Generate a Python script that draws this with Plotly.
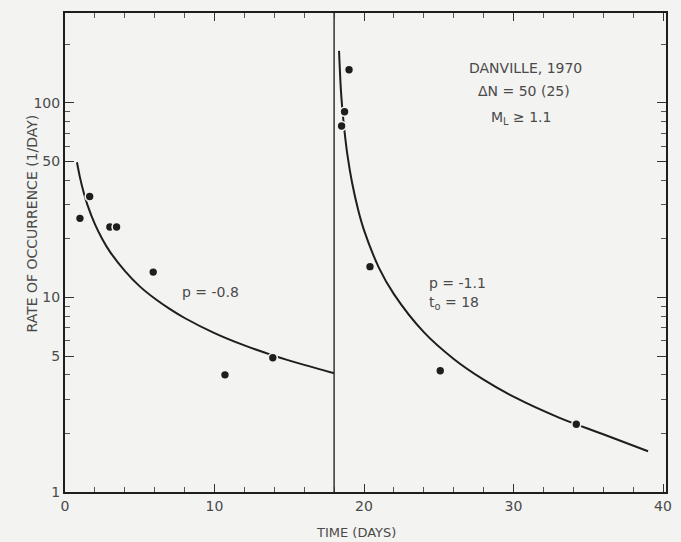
import plotly.graph_objects as go

# Observed rates (1/day)
obs1_t = [1.0, 1.65, 3.0, 3.45, 5.9, 10.7, 13.9]
obs1_n = [25.5, 33, 23, 23, 13.5, 4.0, 4.9]
obs2_t = [19.0, 18.7, 18.5, 20.4, 25.1, 34.2]
obs2_n = [148, 90, 76, 14.4, 4.2, 2.23]

# Fitted curves
fit1_t = [0.8, 1, 1.25, 1.5, 2, 2.5, 3, 4, 5, 6, 7, 8, 10, 12, 14, 16, 18]
fit1_n = [49.5, 41.4, 34.6, 29.9, 23.8, 19.9, 17.2, 13.7, 11.4, 9.87, 8.73, 7.84,
          6.56, 5.67, 5.01, 4.50, 4.08]
fit2_t = [18.33, 18.45, 18.55, 18.7, 18.9, 19.2, 19.6, 20, 21, 22, 24, 26, 28, 30,
          33, 36, 39]
fit2_n = [185, 118, 93, 71, 53.4, 39.0, 28.4, 22.2, 14.2, 10.4, 6.63, 4.83, 3.78,
          3.09, 2.42, 1.98, 1.62]

x_ticks = [0, 10, 20, 30, 40]
y_ticks = [1, 5, 10, 50, 100]
y_minor = [2, 3, 4, 6, 7, 8, 9, 20, 30, 40, 60, 70, 80, 90, 200]

BG = "#f3f3f1"
INK = "#1e1e1e"
TXT = "#4a4a4a"
FONT = "DejaVu Sans"

fig = go.Figure()
for t, n in [(fit1_t, fit1_n), (fit2_t, fit2_n)]:
    fig.add_trace(go.Scatter(x=t, y=n, mode="lines",
                             line=dict(color=INK, width=2, shape="spline"),
                             hoverinfo="skip", showlegend=False))
for t, n in [(obs1_t, obs1_n), (obs2_t, obs2_n)]:
    fig.add_trace(go.Scatter(x=t, y=n, mode="markers",
                             marker=dict(color=INK, size=9,
                                         line=dict(color=BG, width=1.6)),
                             showlegend=False))

fig.add_shape(type="line", xref="x", yref="paper", x0=18, x1=18, y0=0, y1=1,
              line=dict(color="#333", width=1.5))

ann = dict(showarrow=False, font=dict(family=FONT, size=14, color=TXT))
fig.add_annotation(x=30.8, y=2.179, text="DANVILLE, 1970", **ann)
fig.add_annotation(x=30.7, y=2.062, text="ΔN = 50 (25)", **ann)
fig.add_annotation(x=30.5, y=1.923, text="M<sub>L</sub> ≥ 1.1", **ann)
fig.add_annotation(x=9.7, y=1.026, text="p = -0.8", **ann)
fig.add_annotation(x=24.2, y=1.072, text="p = -1.1", xanchor="left", **ann)
fig.add_annotation(x=24.2, y=0.969, text="t<sub>o</sub> = 18", xanchor="left", **ann)
fig.add_annotation(xref="paper", yref="paper", x=-0.072, y=0.56,
                   text="RATE OF OCCURRENCE (1/DAY)", textangle=-90, **ann)
fig.add_annotation(xref="paper", yref="paper", x=0.485, y=-0.085,
                   text="TIME (DAYS)", yanchor="middle",
                   showarrow=False, font=dict(family=FONT, size=13, color=TXT))

fig.update_xaxes(range=[0, 40.2], tickvals=x_ticks, ticks="inside", ticklen=8,
                 tickwidth=1.2, tickcolor="#333",
                 minor=dict(dtick=2, tick0=0, ticks="inside", ticklen=5,
                            tickwidth=1, tickcolor="#555"),
                 showline=True, linecolor=INK, linewidth=2, mirror="allticks",
                 showgrid=False, zeroline=False,
                 tickfont=dict(family=FONT, size=14, color=TXT))
fig.update_yaxes(type="log", range=[0, 2.462], tickvals=y_ticks,
                 ticktext=[str(v) for v in y_ticks],
                 ticks="inside", ticklen=9, tickwidth=1.2, tickcolor="#333",
                 minor=dict(tickvals=y_minor, ticks="inside", ticklen=5,
                            tickwidth=1, tickcolor="#555"),
                 showline=True, linecolor=INK, linewidth=2, mirror="allticks",
                 showgrid=False, zeroline=False,
                 tickfont=dict(family=FONT, size=14, color=TXT))

fig.update_layout(width=681, height=542, paper_bgcolor=BG, plot_bgcolor=BG,
                  margin=dict(l=65, r=9, t=13, b=50),
                  font=dict(family=FONT, color=TXT))

fig.write_html("out.html")
